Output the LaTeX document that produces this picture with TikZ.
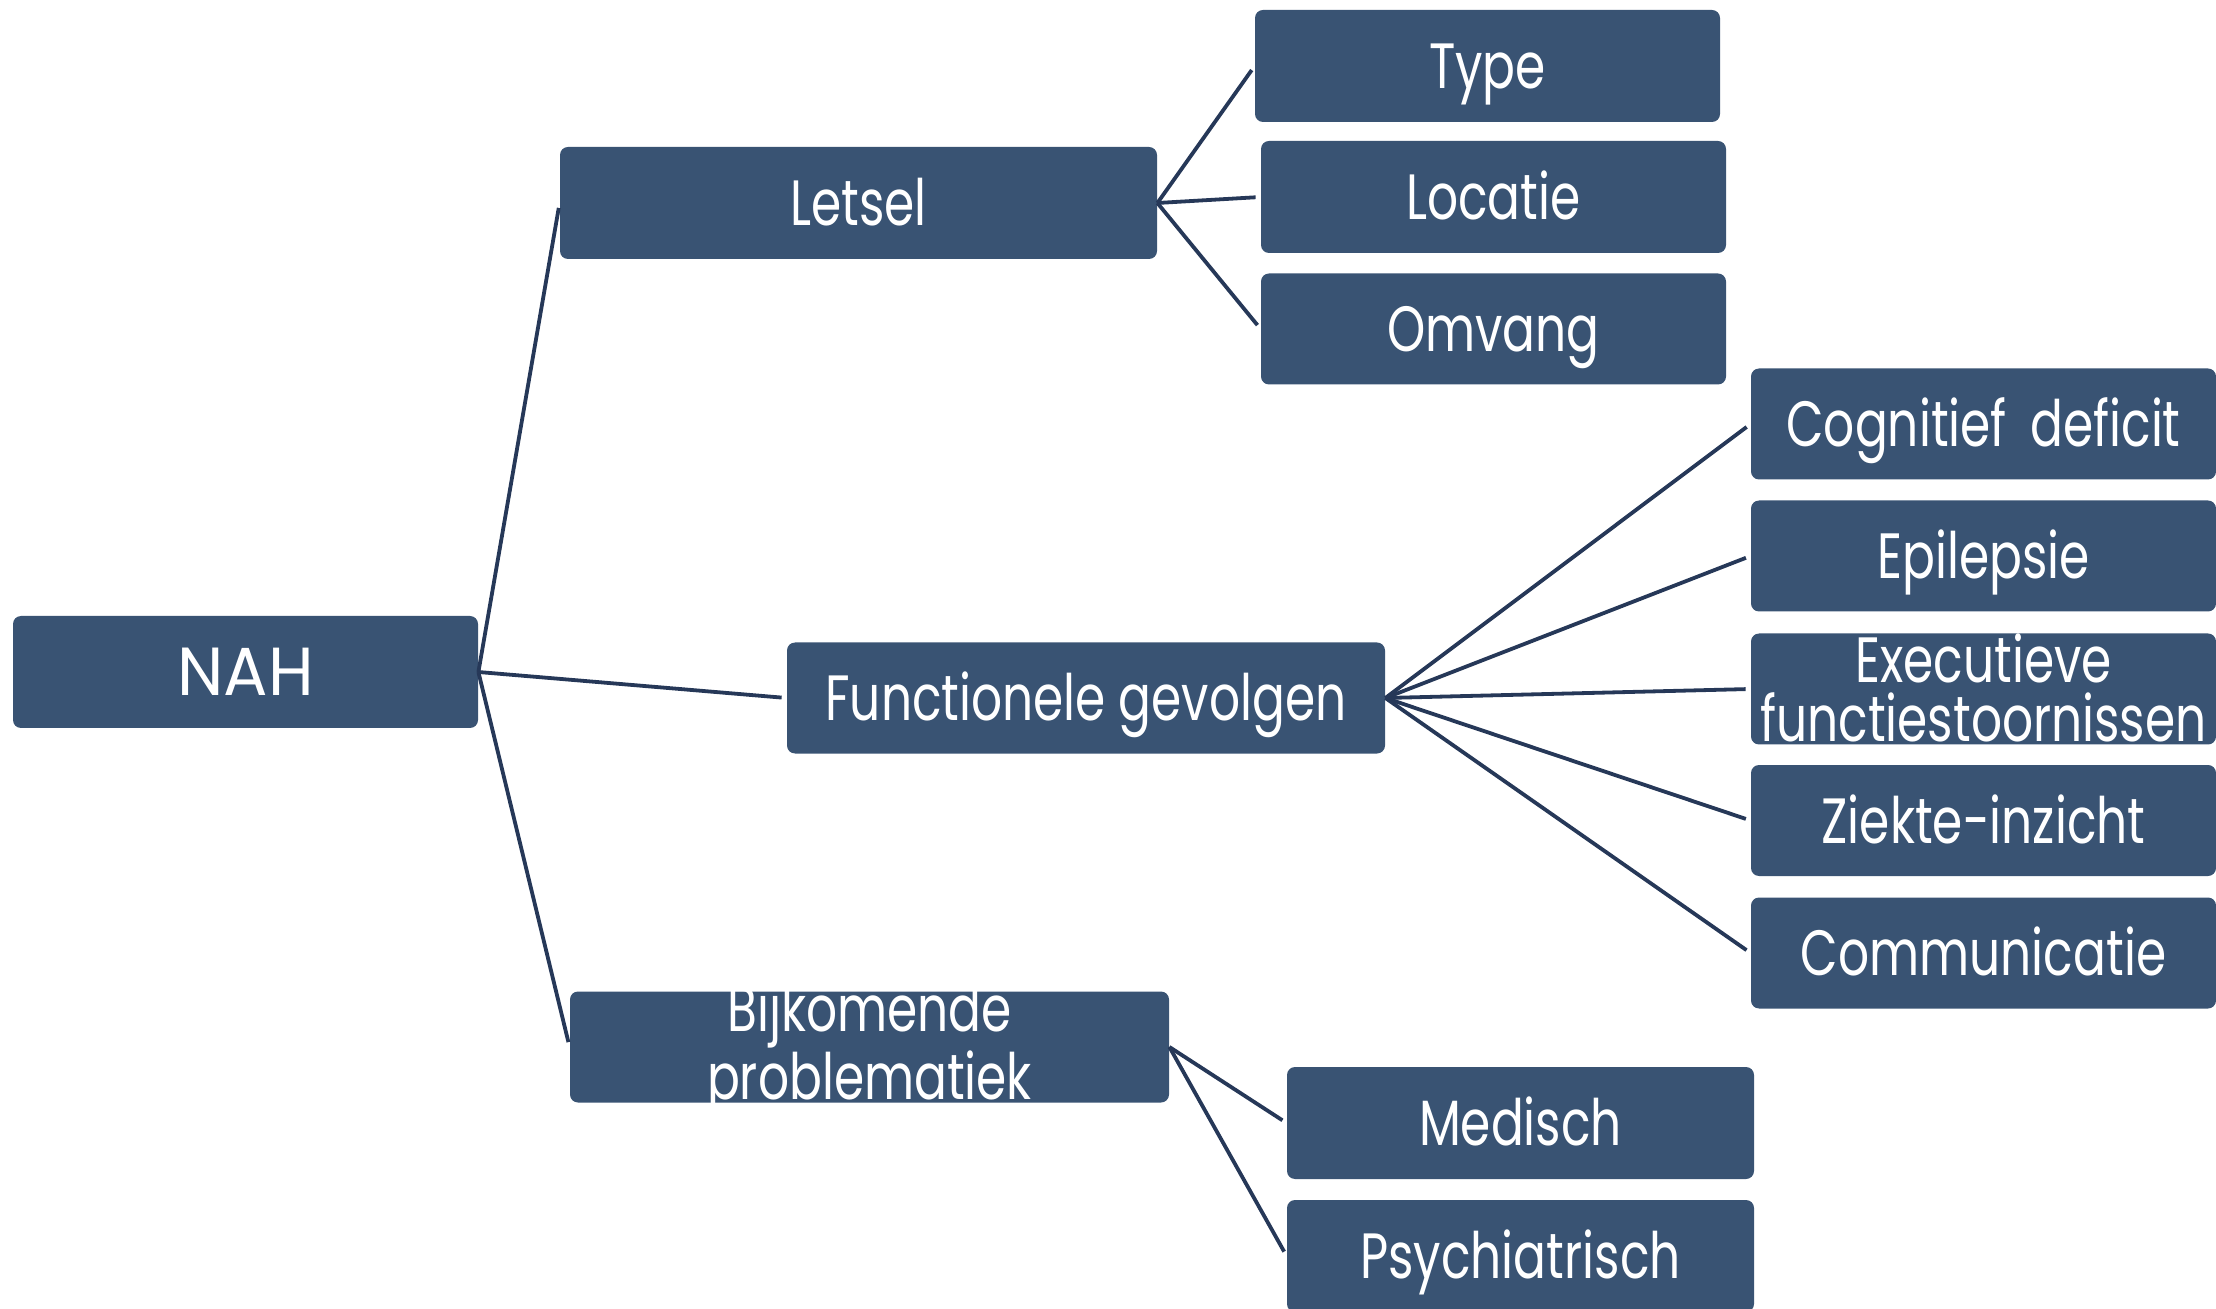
\documentclass[tikz,border=0pt]{standalone}
\usepackage{fontspec}
\setmainfont{Poppins}[FakeStretch=0.76]
\newfontfamily\widefont{Poppins}[FakeStretch=0.97]
\definecolor{boxblue}{RGB}{57,83,115}
\definecolor{linkblue}{RGB}{38,56,88}
\begin{document}
\begin{tikzpicture}[x=0.5pt,y=-0.5pt,
  box/.style={fill=boxblue, rounded corners=4pt, text=white, inner sep=0pt,
    font=\fontsize{32}{29.5}\selectfont, minimum width=232.5pt, minimum height=55.5pt},
  oneline/.style={box, text height=22.5pt, text depth=0pt},
  twolines/.style={box, align=center, text height=52pt, text depth=0pt},
  link/.style={draw=linkblue, line width=1.9pt, shorten >=2.5pt}]
\useasboundingbox (0,0) rectangle (2216,1309);

% root and first level
\node[oneline, minimum height=56pt, font=\widefont\fontsize{34}{30}\selectfont, text height=24pt] (nah) at (245.5,672) {NAH};
\node[oneline, minimum width=298.5pt, minimum height=56pt] (letsel) at (858.5,203) {Letsel};
\node[oneline, minimum width=299pt] (func) at (1086,698) {Functionele gevolgen};
\node[twolines, minimum width=299.5pt] (bijk) at (869.5,1047) {Bijkomende\\problematiek};

% children of Letsel
\node[oneline, minimum height=56pt] (type) at (1487.5,66) {Type};
\node[oneline, minimum height=56pt] (locatie) at (1493.5,197) {Locatie};
\node[oneline] (omvang) at (1493.5,329) {Omvang};

% children of Functionele gevolgen
\node[oneline] (cogn) at (1983.5,424) {Cognitief\, deficit};
\node[oneline] (epi) at (1983.5,556) {Epilepsie};
\node[twolines] (exec) at (1983.5,689) {Executieve\\functiestoornissen};
\node[oneline] (ziekte) at (1983.5,820.5) {Ziekte-inzicht};
\node[oneline] (comm) at (1983.5,953) {Communicatie};

% children of Bijkomende problematiek
\node[oneline, minimum width=233.5pt, minimum height=56pt] (med) at (1520.5,1123) {Medisch};
\node[oneline, minimum width=233.5pt, minimum height=56pt] (psy) at (1520.5,1256) {Psychiatrisch};

% connectors
\foreach \c in {letsel,func,bijk} \draw[link] (nah.east) -- (\c.west);
\foreach \c in {type,locatie,omvang} \draw[link] (letsel.east) -- (\c.west);
\foreach \c in {cogn,epi,exec,ziekte,comm} \draw[link] (func.east) -- (\c.west);
\foreach \c in {med,psy} \draw[link] (bijk.east) -- (\c.west);
\end{tikzpicture}
\end{document}
